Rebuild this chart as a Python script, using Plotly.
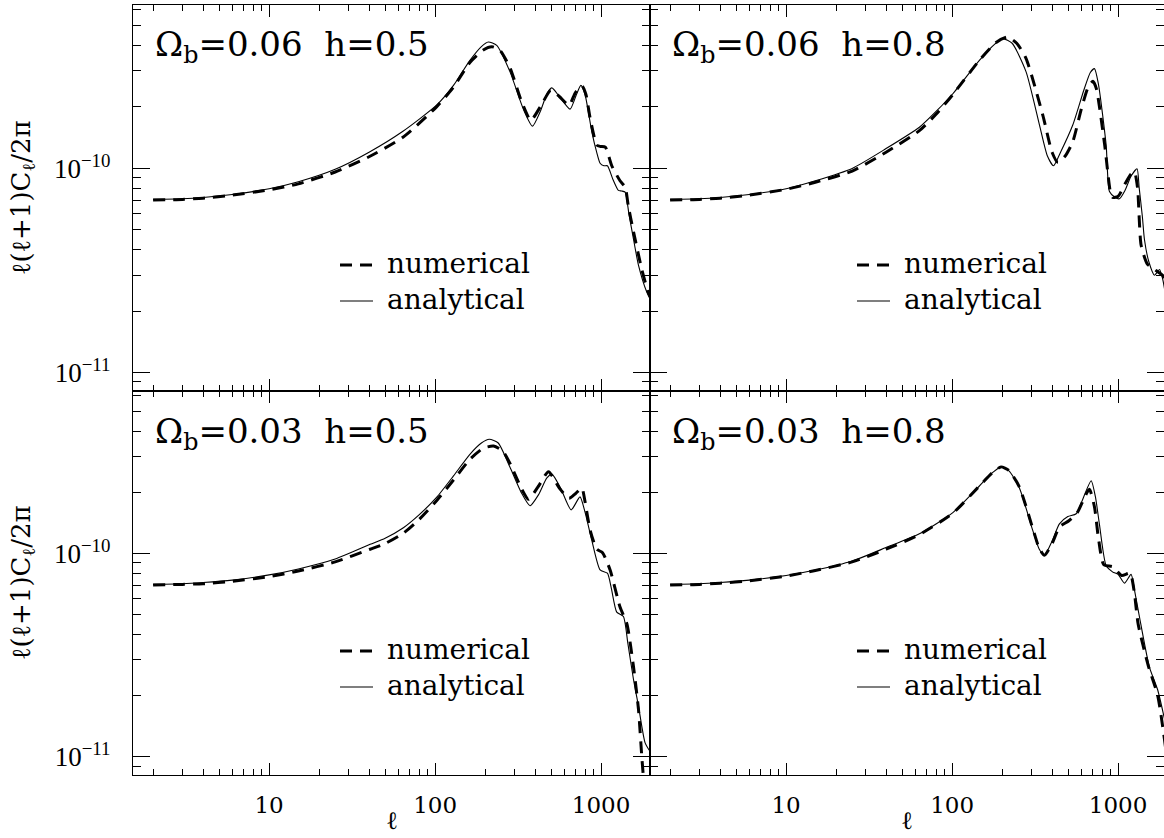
import plotly.graph_objects as go

# ---------------- data ----------------
# top-left panel: Omega_b = 0.06, h = 0.5
ell_tl_num = [2, 3, 4, 6, 10, 15, 25, 40, 64, 102, 129, 162, 195, 220, 245, 283, 330, 377, 430, 497,
              560, 641, 700, 768, 810, 859, 942, 990, 1060, 1159, 1300, 1395, 1460, 1567, 1758, 1920, 2000]
cl_tl_num = [7.0e-11, 7.05e-11, 7.15e-11, 7.4e-11, 7.85e-11, 8.4e-11, 9.6e-11, 1.14e-10, 1.42e-10, 2.0e-10,
             2.5e-10, 3.3e-10, 3.8e-10, 3.94e-10, 3.8e-10, 3.1e-10, 2.15e-10, 1.72e-10, 2.0e-10, 2.41e-10,
             2.25e-10, 2.04e-10, 2.35e-10, 2.53e-10, 2.3e-10, 1.76e-10, 1.30e-10, 1.28e-10, 1.27e-10, 1.03e-10,
             8.7e-11, 8.1e-11, 6.5e-11, 4.9e-11, 3.2e-11, 2.48e-11, 2.3e-11]
ell_tl_ana = [2, 3, 4, 6, 10, 15, 25, 40, 64, 102, 129, 162, 190, 209, 235, 283, 340, 386, 430, 475,
              505, 560, 650, 710, 755, 800, 879, 940, 986, 1040, 1091, 1180, 1271, 1330, 1395, 1470, 1567,
              1680, 1883, 2000]
cl_tl_ana = [7.05e-11, 7.1e-11, 7.2e-11, 7.45e-11, 7.95e-11, 8.6e-11, 9.9e-11, 1.20e-10, 1.52e-10, 2.04e-10,
             2.55e-10, 3.38e-10, 3.95e-10, 4.16e-10, 4.0e-10, 2.96e-10, 1.95e-10, 1.61e-10, 1.9e-10, 2.35e-10,
             2.48e-10, 2.25e-10, 1.95e-10, 2.3e-10, 2.55e-10, 2.3e-10, 1.51e-10, 1.2e-10, 1.06e-10, 1.03e-10,
             1.03e-10, 8.8e-11, 7.8e-11, 7.75e-11, 7.65e-11, 6.0e-11, 4.5e-11, 3.35e-11, 2.48e-11, 2.25e-11]

# top-right panel: Omega_b = 0.06, h = 0.8
ell_tr_num = [2, 3, 4, 6, 10, 15, 25, 40, 63.5, 80, 101, 146, 185, 216, 245, 279, 352, 400, 434, 480, 533,
              600, 660, 705, 740, 830, 900, 929, 1000, 1100, 1200, 1254, 1310, 1376, 1500, 1656, 1750, 1850, 1950]
cl_tr_num = [7.0e-11, 7.05e-11, 7.15e-11, 7.4e-11, 7.9e-11, 8.55e-11, 9.7e-11, 1.2e-10, 1.53e-10, 1.84e-10,
             2.3e-10, 3.38e-10, 4.15e-10, 4.4e-10, 4.1e-10, 3.45e-10, 1.82e-10, 1.2e-10, 1.07e-10, 1.15e-10,
             1.35e-10, 1.95e-10, 2.5e-10, 2.67e-10, 2.45e-10, 1.3e-10, 7.6e-11, 7.2e-11, 7.3e-11, 8.4e-11,
             9.4e-11, 9.6e-11, 8.0e-11, 4.2e-11, 3.4e-11, 3.2e-11, 3.1e-11, 3.0e-11, 2.7e-11]
ell_tr_ana = [2, 3, 4, 6, 10, 15, 25, 40, 63.5, 80, 101, 146, 180, 202, 230, 279, 336, 375, 408, 450, 533,
              620, 680, 720, 760, 847, 887, 960, 1018, 1100, 1200, 1300, 1340, 1400, 1440, 1530, 1656, 1775,
              1850, 1950]
cl_tr_ana = [7.05e-11, 7.1e-11, 7.2e-11, 7.45e-11, 7.95e-11, 8.7e-11, 1.0e-10, 1.25e-10, 1.59e-10, 1.9e-10,
             2.32e-10, 3.38e-10, 4.05e-10, 4.32e-10, 4.1e-10, 2.97e-10, 1.63e-10, 1.15e-10, 1.03e-10, 1.2e-10,
             1.63e-10, 2.4e-10, 2.95e-10, 3.08e-10, 2.6e-10, 1.30e-10, 7.7e-11, 7.2e-11, 7.1e-11, 7.8e-11,
             9.2e-11, 9.95e-11, 8.0e-11, 5.8e-11, 4.5e-11, 3.5e-11, 3.0e-11, 3.2e-11, 2.9e-11, 2.3e-11]

# bottom-left panel: Omega_b = 0.03, h = 0.5
ell_bl_num = [2, 3, 4, 6, 10, 15, 25, 40.6, 50, 64.4, 80, 102, 129, 162, 195, 225, 255, 283, 330, 365, 420,
              482, 560, 641, 700, 765, 800, 859, 942, 1020, 1133, 1300, 1430, 1567, 1680, 1758, 1820]
cl_bl_num = [7.0e-11, 7.05e-11, 7.1e-11, 7.3e-11, 7.7e-11, 8.2e-11, 9.1e-11, 1.05e-10, 1.12e-10, 1.26e-10,
             1.47e-10, 1.82e-10, 2.3e-10, 2.91e-10, 3.3e-10, 3.38e-10, 3.2e-10, 2.77e-10, 2.1e-10, 1.85e-10,
             2.15e-10, 2.53e-10, 2.1e-10, 1.87e-10, 1.97e-10, 2.10e-10, 1.8e-10, 1.30e-10, 1.05e-10, 1.01e-10,
             8.3e-11, 5.45e-11, 4.5e-11, 2.77e-11, 1.7e-11, 1.0e-11, 7.0e-12]
ell_bl_ana = [2, 3, 4, 6, 10, 15, 25, 40.6, 50, 64.4, 80, 102, 129, 162, 190, 212, 240, 283, 330, 373, 420,
              470, 505, 570, 660, 746, 800, 879, 986, 1091, 1150, 1242, 1362, 1450, 1567, 1680, 1841, 1973]
cl_bl_ana = [7.05e-11, 7.1e-11, 7.2e-11, 7.4e-11, 7.85e-11, 8.4e-11, 9.4e-11, 1.11e-10, 1.19e-10, 1.34e-10,
             1.55e-10, 1.89e-10, 2.41e-10, 3.08e-10, 3.5e-10, 3.65e-10, 3.5e-10, 2.65e-10, 2.0e-10, 1.72e-10,
             1.95e-10, 2.35e-10, 2.46e-10, 2.1e-10, 1.64e-10, 1.90e-10, 1.6e-10, 1.16e-10, 8.3e-11, 8.0e-11,
             6.8e-11, 5.15e-11, 4.9e-11, 3.6e-11, 2.4e-11, 1.77e-11, 1.17e-11, 1.06e-11]

# bottom-right panel: Omega_b = 0.03, h = 0.8
ell_br_num = [2, 3, 4, 6, 10, 15, 25, 40, 63.5, 101, 146, 175, 197, 220, 254, 306, 335, 360, 400, 443,
              505, 570, 620, 671, 720, 760, 820, 929, 1050, 1180, 1250, 1320, 1520, 1732, 1928]
cl_br_num = [7.0e-11, 7.05e-11, 7.15e-11, 7.35e-11, 7.75e-11, 8.25e-11, 9.1e-11, 1.05e-10, 1.24e-10, 1.58e-10,
             2.15e-10, 2.5e-10, 2.67e-10, 2.56e-10, 2.13e-10, 1.33e-10, 1.06e-10, 9.8e-11, 1.12e-10, 1.35e-10,
             1.45e-10, 1.6e-10, 1.85e-10, 2.07e-10, 1.7e-10, 1.2e-10, 8.8e-11, 8.6e-11, 7.8e-11, 8.0e-11,
             6.5e-11, 4.5e-11, 2.8e-11, 2.0e-11, 1.12e-11]
ell_br_ana = [2, 3, 4, 6, 10, 15, 25, 40, 63.5, 101, 146, 175, 197, 220, 254, 306, 335, 360, 400, 443,
              498, 559, 620, 688, 730, 771, 847, 929, 1000, 1092, 1197, 1260, 1343, 1542, 1732, 1928]
cl_br_ana = [7.05e-11, 7.1e-11, 7.2e-11, 7.4e-11, 7.8e-11, 8.3e-11, 9.2e-11, 1.07e-10, 1.25e-10, 1.59e-10,
             2.15e-10, 2.5e-10, 2.67e-10, 2.55e-10, 2.11e-10, 1.30e-10, 1.05e-10, 9.8e-11, 1.15e-10, 1.40e-10,
             1.52e-10, 1.57e-10, 1.9e-10, 2.28e-10, 1.9e-10, 1.40e-10, 8.7e-11, 8.1e-11, 7.9e-11, 7.15e-11,
             7.9e-11, 6.5e-11, 4.9e-11, 2.77e-11, 2.13e-11, 1.46e-11]

# tick labels
x_tickvals = [10, 100, 1000]
x_ticktext = ["10", "100", "1000"]
y_tickvals = [1e-11, 1e-10]
y_ticktext = ["10<sup>−11</sup>", "10<sup>−10</sup>"]

panel_labels = ["Ω<sub>b</sub>=0.06\u00a0\u00a0h=0.5", "Ω<sub>b</sub>=0.06\u00a0\u00a0h=0.8",
                "Ω<sub>b</sub>=0.03\u00a0\u00a0h=0.5", "Ω<sub>b</sub>=0.03\u00a0\u00a0h=0.8"]
legend_labels = ["numerical", "analytical"]
x_title = "ℓ"
y_title = "ℓ(ℓ+1)C<sub>ℓ</sub>/2π"

# ---------------- figure ----------------
FONT = "DejaVu Serif"
W, H = 1164, 838
ML, MR, MT, MB = 133, 0, 5, 63
PW, PH = W - ML - MR, H - MT - MB
XSPLIT = 517 / PW
YSPLIT = 384 / PH
PX_PER_DEC = 166.0
XMIN = 0.18

panels = [
    ("x", "y", [0, XSPLIT], [YSPLIT, 1], ell_tl_num, cl_tl_num, ell_tl_ana, cl_tl_ana),
    ("x2", "y2", [XSPLIT, 1], [YSPLIT, 1], ell_tr_num, cl_tr_num, ell_tr_ana, cl_tr_ana),
    ("x3", "y3", [0, XSPLIT], [0, YSPLIT], ell_bl_num, cl_bl_num, ell_bl_ana, cl_bl_ana),
    ("x4", "y4", [XSPLIT, 1], [0, YSPLIT], ell_br_num, cl_br_num, ell_br_ana, cl_br_ana),
]

fig = go.Figure()
layout = dict(
    width=W, height=H,
    margin=dict(l=ML, r=MR, t=MT, b=MB, pad=0),
    paper_bgcolor="white", plot_bgcolor="white",
    showlegend=False,
    font=dict(family=FONT, color="black"),
)

annotations = []
shapes = []
for i, (xa, ya, xdom, ydom, en, cn, ea, ca) in enumerate(panels):
    fig.add_trace(go.Scatter(x=en, y=cn, xaxis=xa, yaxis=ya, mode="lines", name=legend_labels[0],
                             line=dict(color="black", width=3, dash="12px,8px", shape="spline", smoothing=0.6)))
    fig.add_trace(go.Scatter(x=ea, y=ca, xaxis=xa, yaxis=ya, mode="lines", name=legend_labels[1],
                             line=dict(color="black", width=1.1, shape="spline", smoothing=0.6)))
    is_left = (i % 2 == 0)
    is_bottom = (i >= 2)
    xpix = (xdom[1] - xdom[0]) * PW
    ypix = (ydom[1] - ydom[0]) * PH
    xkey = "xaxis" if xa == "x" else "xaxis" + xa[1:]
    ykey = "yaxis" if ya == "y" else "yaxis" + ya[1:]
    layout[xkey] = dict(
        domain=xdom, anchor=ya, type="log",
        range=[XMIN, XMIN + xpix / PX_PER_DEC],
        tickmode="array", tickvals=x_tickvals, ticktext=x_ticktext,
        ticks="inside", ticklen=12, tickwidth=1, tickcolor="black",
        minor=dict(ticks="inside", ticklen=6, tickwidth=1, tickcolor="black",
                   tickmode="linear", dtick="D1", showgrid=False),
        showline=True, linecolor="black", linewidth=1.2, mirror="ticks",
        showgrid=False, zeroline=False,
        showticklabels=is_bottom, ticklabelstandoff=9,
        tickfont=dict(family=FONT, size=23, color="black"),
    )
    layout[ykey] = dict(
        domain=ydom, anchor=xa, type="log",
        range=[-11.09, -9.2],
        tickmode="array", tickvals=y_tickvals, ticktext=y_ticktext,
        ticks="inside", ticklen=17, tickwidth=1, tickcolor="black",
        minor=dict(ticks="inside", ticklen=8, tickwidth=1, tickcolor="black",
                   tickmode="linear", dtick="D1", showgrid=False),
        showline=True, linecolor="black", linewidth=1.2, mirror="ticks",
        showgrid=False, zeroline=False,
        showticklabels=is_left, ticklabelstandoff=16,
        tickfont=dict(family="Liberation Serif", size=27, color="black"),
    )
    dref_x = xa + " domain"
    dref_y = ya + " domain"
    # panel label
    annotations.append(dict(text=panel_labels[i], xref=dref_x, yref=dref_y,
                            x=20 / xpix, y=1 - 42 / ypix, xanchor="left", yanchor="middle",
                            showarrow=False, font=dict(family=FONT, size=34, color="black")))
    # legend (dashed = numerical, solid = analytical)
    for k, (yy, dash, wd) in enumerate([(260, "12px,8px", 3), (296, "solid", 1.1)]):
        shapes.append(dict(type="line", xref=dref_x, yref=dref_y,
                           x0=207 / xpix, x1=240 / xpix, y0=1 - yy / ypix, y1=1 - yy / ypix,
                           line=dict(color="black", width=wd, dash=dash)))
        annotations.append(dict(text=legend_labels[k], xref=dref_x, yref=dref_y,
                                x=252 / xpix, y=1 - (yy - 2) / ypix, xanchor="left", yanchor="middle",
                                showarrow=False, font=dict(family=FONT, size=28, color="black")))
    if is_bottom:
        annotations.append(dict(text=x_title, xref=dref_x, yref="paper", x=0.5, y=-46 / PH,
                                xanchor="center", yanchor="middle", showarrow=False,
                                font=dict(family=FONT, size=25, color="black")))
    if is_left:
        annotations.append(dict(text=y_title, xref="paper", yref=dref_y, x=-111 / PW, y=0.5,
                                xanchor="center", yanchor="middle", textangle=-90, showarrow=False,
                                font=dict(family=FONT, size=26, color="black")))

layout["annotations"] = annotations
layout["shapes"] = shapes
fig.update_layout(**layout)
fig.write_html("out.html", config={"displayModeBar": False},
               post_script="document.body.style.margin='0px';")
